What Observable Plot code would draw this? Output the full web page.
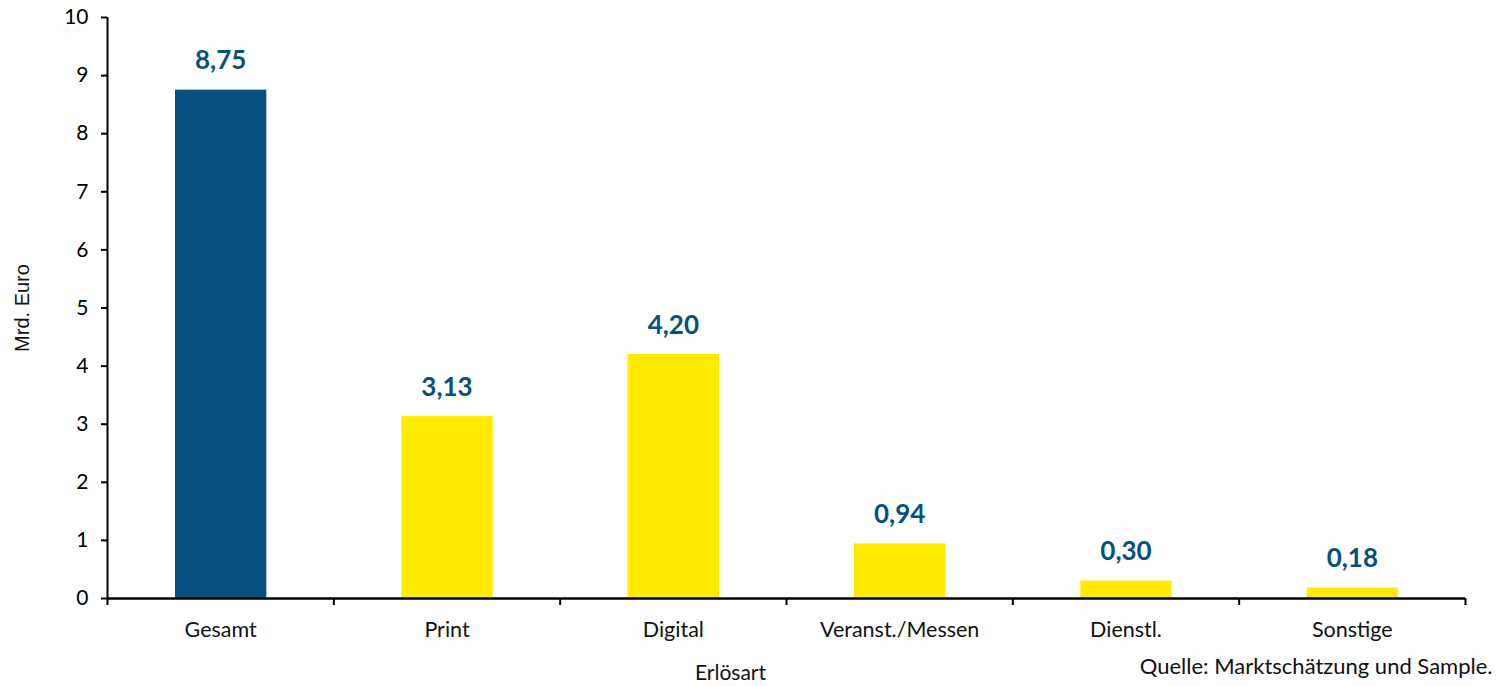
<!DOCTYPE html>
<html><head><meta charset="utf-8">
<script src="https://cdn.jsdelivr.net/npm/d3@7"></script>
<script src="https://cdn.jsdelivr.net/npm/@observablehq/plot@0.6"></script>
<style>body{margin:0;background:#fff}svg{display:block}</style>
</head><body><div id="chart"></div>
<script>
const categories = ["Gesamt","Print","Digital","Veranst./Messen","Dienstl.","Sonstige"];
const values = [8.75, 3.13, 4.20, 0.94, 0.30, 0.18];
const barColors = ["#07517E","#FFEB00","#FFEB00","#FFEB00","#FFEB00","#FFEB00"];
const yTicks = [0,1,2,3,4,5,6,7,8,9,10];
const yTitle = "Mrd. Euro";
const xTitle = "Erlösart";
const caption = "Quelle: Marktschätzung und Sample.";

const data = categories.map((c,i)=>({cat:c, i, v:values[i], color:barColors[i]}));
const fmt = v => v.toFixed(2).replace(".", ",");
const calib = "Lato, 'Open Sans', sans-serif";

const chart = Plot.plot({
  width: 1501, height: 686,
  marginLeft: 107, marginRight: 36, marginTop: 17, marginBottom: 88,
  style: {fontFamily: calib, background: "#fff"},
  x: {type: "linear", domain: [0, categories.length], axis: null},
  y: {domain: [0, 10], axis: null},
  marks: [
    Plot.rectY(data, {x1: d=>d.i, x2: d=>d.i+1, y: "v", fill: "color", insetLeft: 68, insetRight: 67}),
    Plot.text(data, {x: d=>d.i+0.5, y: "v", text: d=>fmt(d.v), dy: -29, fill: "#07517E", fontWeight: "bold", fontSize: 26, fontFamily: calib}),
    // y axis
    Plot.axisY({ticks: yTicks, tickSize: 6, tickPadding: 13, fontSize: 21, stroke: "#000", strokeWidth: 2, fill: "#000", label: null, fontFamily: calib}),
    Plot.ruleX([0], {stroke: "#000", strokeWidth: 2}),
    // x axis
    Plot.ruleY([0], {stroke: "#000", strokeWidth: 2.5}),
    Plot.axisX({ticks: d3.range(categories.length+1), tickFormat: () => "", tickSize: 7, strokeWidth: 2, stroke: "#000", label: null}),
    Plot.text(data, {x: d=>d.i+0.5, y: 0, text: "cat", dy: 32, fontSize: 21.5, fill: "#111", fontFamily: calib}),
    // titles
    Plot.text([yTitle], {frameAnchor: "left", textAnchor: "middle", rotate: -90, dx: -85, fontSize: 20, fontFamily: "'Liberation Sans', Arial, sans-serif", fill: "#111"}),
    Plot.text([xTitle], {frameAnchor: "bottom", textAnchor: "middle", dx: -56, dy: 81, fontSize: 21, fontFamily: calib, fill: "#111"}),
    Plot.text([caption], {frameAnchor: "bottom-right", textAnchor: "end", dx: 27, dy: 75, fontSize: 22, fontFamily: calib, fill: "#111"})
  ]
});
document.getElementById("chart").append(chart);
</script>
</body></html>
